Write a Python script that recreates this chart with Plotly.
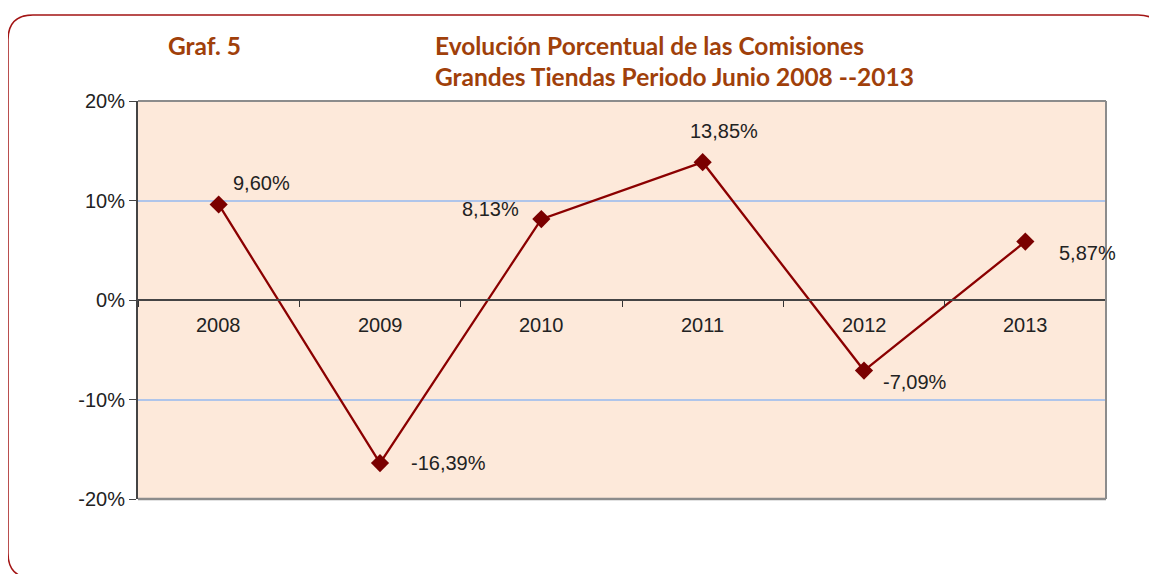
import plotly.graph_objects as go

years = ["2008", "2009", "2010", "2011", "2012", "2013"]
values = [9.60, -16.39, 8.13, 13.85, -7.09, 5.87]
y_ticks = [20, 10, 0, -10, -20]
y_tick_labels = ["20%", "10%", "0%", "-10%", "-20%"]
# label offsets (pixels) relative to each point
label_dx = [43, 68, -51, 21, 51, 62]
label_dy = [21, 0, 10, 31, -11, -11]

OFF = 8  # page body margin
W, H = 1157, 574
L, R, T, B = 138 - OFF, 1106 - OFF, 101 - OFF, 499 - OFF

def px(x):
    return (x - OFF - L) / (R - L)

def py(y):
    return (B - (y - OFF)) / (B - T)

fig = go.Figure()
fig.add_trace(go.Scatter(
    x=list(range(len(years))), y=values, mode="lines+markers",
    line=dict(color="#8B0000", width=2.3),
    marker=dict(symbol="diamond", size=14, color="#7A0000"),
    hoverinfo="skip", showlegend=False,
))

label_font = dict(family="Arial, Liberation Sans", size=20, color="#222222")
for i, (v, dx, dy) in enumerate(zip(values, label_dx, label_dy)):
    fig.add_annotation(
        xref="x", yref="y", x=i, y=v, text=f"{v:.2f}%".replace(".", ","), showarrow=False,
        xshift=dx, yshift=dy, font=label_font,
    )

# x category labels under the zero line
for i, yr in enumerate(years):
    fig.add_annotation(xref="x", yref="y", x=i, y=0, text=yr, showarrow=False, yshift=-25,
                       font=label_font)

fig.update_layout(
    width=W, height=H,
    margin=dict(l=L, r=W - R, t=T, b=H - B, pad=0),
    paper_bgcolor="white", plot_bgcolor="#FDE9DA",
    xaxis=dict(range=[-0.5, 5.5], showgrid=False, showticklabels=False,
               tickvals=[-0.5, 0.5, 1.5, 2.5, 3.5, 4.5, 5.5], ticks="outside",
               ticklen=6, tickcolor="#333333", zeroline=False,
               anchor="free", position=0.5, showline=True, linecolor="#444444", linewidth=1.5),
    yaxis=dict(range=[-20, 20], tickvals=y_ticks, ticktext=y_tick_labels,
               showgrid=True, gridcolor="#AFC5EA", gridwidth=2, zeroline=False,
               ticks="outside", ticklen=7, tickcolor="#444444",
               showline=True, linecolor="#444444", linewidth=2,
               tickfont=label_font),
)

shapes = []
# plot area borders (top, right, bottom)
shapes.append(dict(type="line", xref="paper", yref="paper", x0=0, x1=1, y0=1, y1=1,
                   line=dict(color="#8C8C8C", width=2)))
shapes.append(dict(type="line", xref="paper", yref="paper", x0=1, x1=1, y0=0, y1=1,
                   line=dict(color="#8C8C8C", width=2)))
shapes.append(dict(type="line", xref="paper", yref="paper", x0=0, x1=1, y0=0, y1=0,
                   line=dict(color="#8C8C8C", width=2.5)))

# outer rounded border
x0, x1, y0, y1, r = 8, 1163, 15, 578, 25
path = (f"M {px(x0+r)},{py(y0)} L {px(x1-r)},{py(y0)} "
        f"Q {px(x1)},{py(y0)} {px(x1)},{py(y0+r)} "
        f"L {px(x1)},{py(y1-r)} Q {px(x1)},{py(y1)} {px(x1-r)},{py(y1)} "
        f"L {px(x0+r)},{py(y1)} Q {px(x0)},{py(y1)} {px(x0)},{py(y1-r)} "
        f"L {px(x0)},{py(y0+r)} Q {px(x0)},{py(y0)} {px(x0+r)},{py(y0)} Z")
shapes.append(dict(type="path", xref="paper", yref="paper", path=path,
                   line=dict(color="#A31515", width=1.5), layer="below"))
fig.update_layout(shapes=shapes)

title_font = dict(family="Lato, Open Sans", size=24.5, color="#A0400A")
fig.add_annotation(xref="paper", yref="paper", x=px(166), y=py(45), text="<b>Graf. 5</b>",
                   showarrow=False, xanchor="left", yanchor="middle", font=title_font)
fig.add_annotation(xref="paper", yref="paper", x=px(433), y=py(45),
                   text="<b>Evolución Porcentual de las Comisiones</b>",
                   showarrow=False, xanchor="left", yanchor="middle", font=title_font)
fig.add_annotation(xref="paper", yref="paper", x=px(433), y=py(76),
                   text="<b>Grandes Tiendas Periodo Junio 2008 --2013</b>",
                   showarrow=False, xanchor="left", yanchor="middle", font=title_font)

fig.write_html("out.html")
